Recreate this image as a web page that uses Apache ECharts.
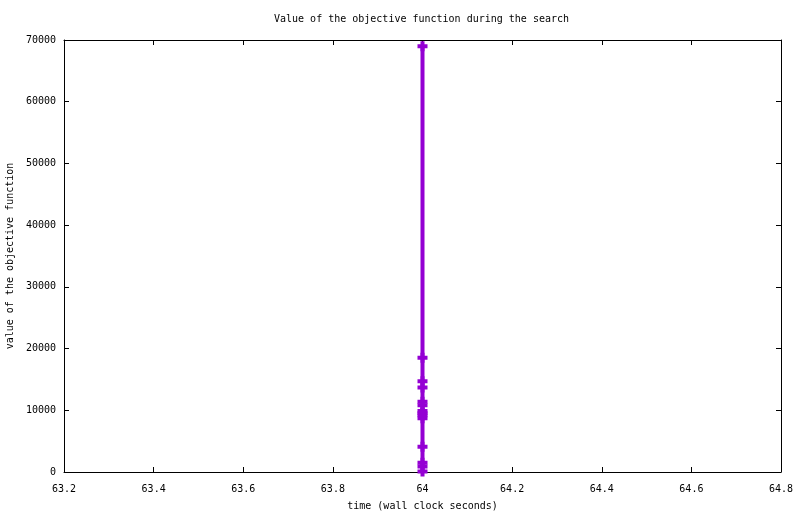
<!DOCTYPE html>
<html>
<head>
<meta charset="utf-8">
<script src="https://cdn.jsdelivr.net/npm/echarts@6/dist/echarts.min.js"></script>
<style>
  html, body { margin: 0; padding: 0; background: #fff; }
  #chart { width: 800px; height: 514px; }
</style>
</head>
<body>
<div id="chart"></div>
<script>
// values: every improvement lands at ~64.0 s
const times = [64.0, 64.0, 64.0, 64.0, 64.0, 64.0, 64.0, 64.0, 64.0, 64.0, 64.0, 64.0, 64.0, 64.0];
const objective = [69000, 18500, 14700, 13700, 11400, 10800, 9900, 9500, 9200, 8700, 4100, 1500, 900, 100];

const xTicks = { min: 63.2, max: 64.8, step: 0.2 };
const yTicks = { min: 0, max: 70000, step: 10000 };

const font = 'DejaVu Sans Mono';
const plus = 'path://M3,0H7V3H10V7H7V10H3V7H0V3H3Z';

const axisCommon = {
    axisLine: { show: true, onZero: false, lineStyle: { color: '#000', width: 1 } },
    axisTick: { show: true, inside: true, length: 5, lineStyle: { color: '#000' } },
    splitLine: { show: false }
};

const chart = echarts.init(document.getElementById('chart'));
chart.setOption({
    animation: false,
    backgroundColor: '#fff',
    textStyle: { fontFamily: font },
    title: {
        text: 'Value of the objective function during the search',
        left: 269, top: 9,
        textStyle: { fontFamily: font, fontSize: 10, fontWeight: 'normal', color: '#000' }
    },
    grid: { left: 64, right: 19, top: 40, bottom: 42, outerBoundsMode: 'none', containLabel: false },
    xAxis: [
        Object.assign({
            type: 'value', min: xTicks.min, max: xTicks.max, interval: xTicks.step,
            name: 'time (wall clock seconds)', nameLocation: 'middle', nameGap: 29,
            nameTextStyle: { fontFamily: font, fontSize: 10, color: '#000' },
            axisLabel: {
                color: '#000', fontFamily: font, fontSize: 10, margin: 12,
                formatter: v => String(parseFloat(v.toFixed(1)))
            }
        }, axisCommon),
        Object.assign({
            type: 'value', position: 'top', min: xTicks.min, max: xTicks.max, interval: xTicks.step,
            axisLabel: { show: false }
        }, axisCommon)
    ],
    yAxis: [
        Object.assign({
            type: 'value', min: yTicks.min, max: yTicks.max, interval: yTicks.step,
            name: 'value of the objective function', nameLocation: 'middle', nameGap: 48,
            nameRotate: 90,
            nameTextStyle: { fontFamily: font, fontSize: 10, color: '#000' },
            axisLabel: { color: '#000', fontFamily: font, fontSize: 10, margin: 8, formatter: v => String(v) }
        }, axisCommon),
        Object.assign({
            type: 'value', position: 'right', min: yTicks.min, max: yTicks.max, interval: yTicks.step,
            axisLabel: { show: false }
        }, axisCommon)
    ],
    series: [{
        type: 'line',
        data: times.map((t, i) => [t, objective[i]]),
        clip: false,
        symbol: plus,
        symbolSize: 10,
        showAllSymbol: true,
        lineStyle: { color: '#9400d3', width: 4 },
        itemStyle: { color: '#9400d3' }
    }]
});
</script>
</body>
</html>
